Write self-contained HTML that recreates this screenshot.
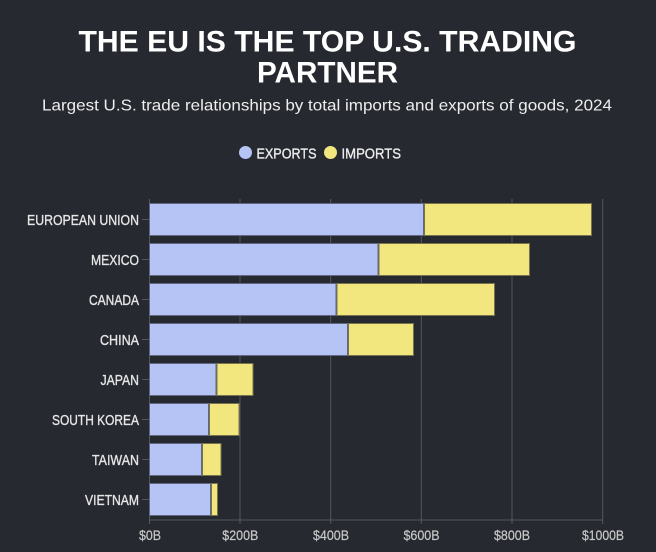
<!DOCTYPE html>
<html>
<head>
<meta charset="utf-8">
<style>
  html, body { margin: 0; padding: 0; background: #262930; }
  body { width: 656px; height: 552px; overflow: hidden; }
  svg { display: block; }
  text { font-family: "Liberation Sans", sans-serif; }
</style>
</head>
<body>
<svg width="656" height="552" viewBox="0 0 656 552" xmlns="http://www.w3.org/2000/svg">
  <rect x="0" y="0" width="656" height="552" fill="#262930"/>

  <!-- Title -->
  <text x="327.5" y="51.5" text-anchor="middle" font-size="30" font-weight="bold" fill="#ffffff" textLength="498" lengthAdjust="spacingAndGlyphs">THE EU IS THE TOP U.S. TRADING</text>
  <text x="327.5" y="82.5" text-anchor="middle" font-size="30" font-weight="bold" fill="#ffffff" textLength="141" lengthAdjust="spacingAndGlyphs">PARTNER</text>

  <!-- Subtitle -->
  <text x="327" y="110.5" text-anchor="middle" font-size="16" fill="#eeeeee" textLength="570" lengthAdjust="spacingAndGlyphs">Largest U.S. trade relationships by total imports and exports of goods, 2024</text>

  <!-- Legend -->
  <circle cx="245.5" cy="152.5" r="6.5" fill="#b5c4f5"/>
  <text x="256.5" y="158.5" font-size="15" fill="#eeeeee" stroke="#eeeeee" stroke-width="0.35" textLength="60" lengthAdjust="spacingAndGlyphs">EXPORTS</text>
  <circle cx="330.5" cy="152.5" r="6.5" fill="#f2e67f"/>
  <text x="341.5" y="158.5" font-size="15" fill="#eeeeee" stroke="#eeeeee" stroke-width="0.35" textLength="59.5" lengthAdjust="spacingAndGlyphs">IMPORTS</text>

  <!-- Gridlines -->
  <g stroke="#55585e" stroke-width="1">
    <line x1="240" y1="199" x2="240" y2="524"/>
    <line x1="330.7" y1="199" x2="330.7" y2="524"/>
    <line x1="421.3" y1="199" x2="421.3" y2="524"/>
    <line x1="512" y1="199" x2="512" y2="524"/>
    <line x1="602.7" y1="199" x2="602.7" y2="524"/>
    <!-- y axis -->
    <line x1="149.5" y1="199" x2="149.5" y2="524"/>
    <!-- x axis -->
    <line x1="149.5" y1="520" x2="603" y2="520"/>
  </g>

  <!-- y tick marks -->
  <g stroke="#55585e" stroke-width="1">
    <line x1="142" y1="219.5" x2="149" y2="219.5"/>
    <line x1="142" y1="259.5" x2="149" y2="259.5"/>
    <line x1="142" y1="299.5" x2="149" y2="299.5"/>
    <line x1="142" y1="339.5" x2="149" y2="339.5"/>
    <line x1="142" y1="379.5" x2="149" y2="379.5"/>
    <line x1="142" y1="419.5" x2="149" y2="419.5"/>
    <line x1="142" y1="459.5" x2="149" y2="459.5"/>
    <line x1="142" y1="499.5" x2="149" y2="499.5"/>
  </g>

  <!-- Bars -->
  <g stroke-width="1">
    <!-- EU -->
    <rect x="149.5" y="203.5" width="274" height="32" fill="#b5c4f5" stroke="#5f6880"/>
    <rect x="424.5" y="203.5" width="167" height="32" fill="#f2e67f" stroke="#77734f"/>
    <!-- Mexico -->
    <rect x="149.5" y="243.5" width="228.5" height="32" fill="#b5c4f5" stroke="#5f6880"/>
    <rect x="379" y="243.5" width="150.5" height="32" fill="#f2e67f" stroke="#77734f"/>
    <!-- Canada -->
    <rect x="149.5" y="283.5" width="186.5" height="32" fill="#b5c4f5" stroke="#5f6880"/>
    <rect x="337" y="283.5" width="157.5" height="32" fill="#f2e67f" stroke="#77734f"/>
    <!-- China -->
    <rect x="149.5" y="323.5" width="198" height="32" fill="#b5c4f5" stroke="#5f6880"/>
    <rect x="348.5" y="323.5" width="65" height="32" fill="#f2e67f" stroke="#77734f"/>
    <!-- Japan -->
    <rect x="149.5" y="363.5" width="66.5" height="32" fill="#b5c4f5" stroke="#5f6880"/>
    <rect x="217" y="363.5" width="36" height="32" fill="#f2e67f" stroke="#77734f"/>
    <!-- South Korea -->
    <rect x="149.5" y="403.5" width="59" height="32" fill="#b5c4f5" stroke="#5f6880"/>
    <rect x="209.5" y="403.5" width="29.5" height="32" fill="#f2e67f" stroke="#77734f"/>
    <!-- Taiwan -->
    <rect x="149.5" y="443.5" width="52" height="32" fill="#b5c4f5" stroke="#5f6880"/>
    <rect x="202.5" y="443.5" width="18.5" height="32" fill="#f2e67f" stroke="#77734f"/>
    <!-- Vietnam -->
    <rect x="149.5" y="483.5" width="61" height="32" fill="#b5c4f5" stroke="#5f6880"/>
    <rect x="211.5" y="483.5" width="6" height="32" fill="#f2e67f" stroke="#77734f"/>
  </g>

  <!-- Y labels -->
  <g font-size="15" fill="#e6e6e6" stroke="#e6e6e6" stroke-width="0.35" text-anchor="end">
    <text x="139" y="225" textLength="112" lengthAdjust="spacingAndGlyphs">EUROPEAN UNION</text>
    <text x="139" y="265" textLength="48" lengthAdjust="spacingAndGlyphs">MEXICO</text>
    <text x="139" y="305" textLength="50" lengthAdjust="spacingAndGlyphs">CANADA</text>
    <text x="139" y="345" textLength="39" lengthAdjust="spacingAndGlyphs">CHINA</text>
    <text x="139" y="385" textLength="38.5" lengthAdjust="spacingAndGlyphs">JAPAN</text>
    <text x="139" y="425" textLength="87" lengthAdjust="spacingAndGlyphs">SOUTH KOREA</text>
    <text x="139" y="465" textLength="47" lengthAdjust="spacingAndGlyphs">TAIWAN</text>
    <text x="139" y="505" textLength="54" lengthAdjust="spacingAndGlyphs">VIETNAM</text>
  </g>

  <!-- X tick labels -->
  <g font-size="14" fill="#c8c8c8" stroke="#c8c8c8" stroke-width="0.2" text-anchor="middle">
    <text x="150" y="540" textLength="22" lengthAdjust="spacingAndGlyphs">$0B</text>
    <text x="240.3" y="540" textLength="36" lengthAdjust="spacingAndGlyphs">$200B</text>
    <text x="331" y="540" textLength="36" lengthAdjust="spacingAndGlyphs">$400B</text>
    <text x="421.5" y="540" textLength="36" lengthAdjust="spacingAndGlyphs">$600B</text>
    <text x="512" y="540" textLength="36" lengthAdjust="spacingAndGlyphs">$800B</text>
    <text x="603" y="540" textLength="42" lengthAdjust="spacingAndGlyphs">$1000B</text>
  </g>
</svg>
</body>
</html>
